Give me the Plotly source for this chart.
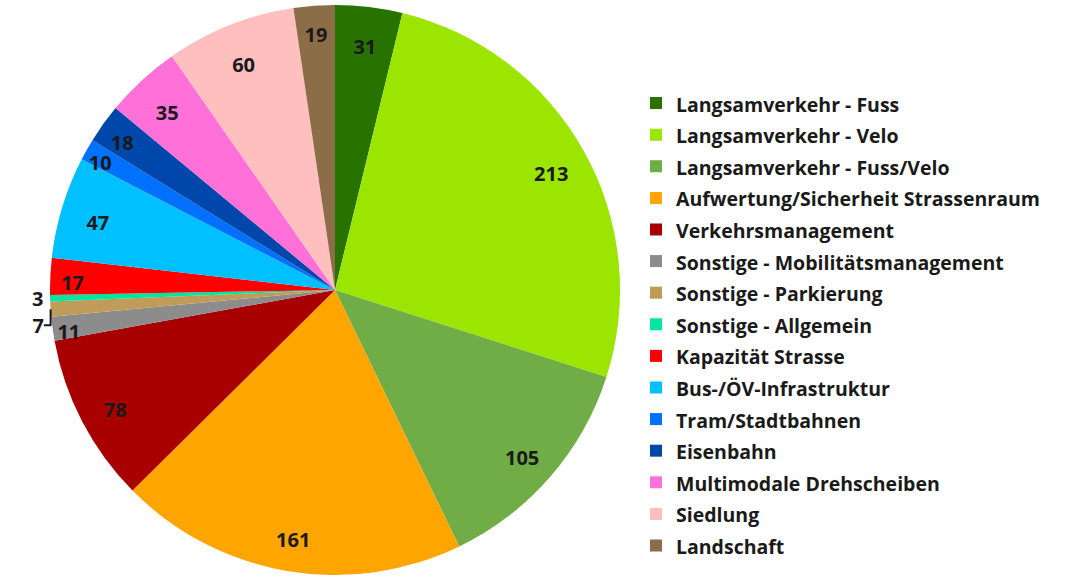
import plotly.graph_objects as go

categories = [
    "Langsamverkehr - Fuss",
    "Langsamverkehr - Velo",
    "Langsamverkehr - Fuss/Velo",
    "Aufwertung/Sicherheit Strassenraum",
    "Verkehrsmanagement",
    "Sonstige - Mobilitätsmanagement",
    "Sonstige - Parkierung",
    "Sonstige - Allgemein",
    "Kapazität Strasse",
    "Bus-/ÖV-Infrastruktur",
    "Tram/Stadtbahnen",
    "Eisenbahn",
    "Multimodale Drehscheiben",
    "Siedlung",
    "Landschaft",
]
values = [31, 213, 105, 161, 78, 11, 7, 3, 17, 47, 10, 18, 35, 60, 19]
colors = [
    "#287200", "#9be500", "#70ad47", "#ffa500", "#a80000",
    "#8c8c8c", "#c19b5a", "#00e5a0", "#ff0000", "#00c0ff",
    "#0070ff", "#0047ab", "#ff70d8", "#ffbfbf", "#8b6d47",
]
outside = ["Sonstige - Parkierung", "Sonstige - Allgemein"]

main_pos = ["outside" if c in outside else "none" for c in categories]
ring_pos = ["none" if c in outside else "inside" for c in categories]

legend_labels = ["<span style='font-size:19.5px'>%s</span>" % c for c in categories]

domain = dict(x=[47.5 / 1076, 622.5 / 1076], y=[0, 0.9914])
ring_domain = dict(x=[52.5 / 1076, 617.5 / 1076], y=[0, 565 / 580])
label_font = dict(family="Open Sans", size=20, color="#1a1a1a", weight="bold")

fig = go.Figure()
fig.add_trace(go.Pie(
    labels=legend_labels,
    values=values,
    marker=dict(colors=colors, line=dict(width=0)),
    sort=False,
    direction="clockwise",
    rotation=0,
    textinfo="value",
    textposition=main_pos,
    textfont=label_font,
    domain=domain,
    showlegend=True,
    hovertext=categories,
    hoverinfo="text+value",
))
fig.add_trace(go.Pie(
    labels=legend_labels,
    values=values,
    hole=0.77,
    marker=dict(colors=["rgba(0,0,0,0)"] * len(values), line=dict(width=0)),
    sort=False,
    direction="clockwise",
    rotation=0,
    textinfo="value",
    textposition=ring_pos,
    insidetextorientation="horizontal",
    textfont=label_font,
    domain=ring_domain,
    showlegend=False,
    hoverinfo="skip",
))

fig.update_layout(
    width=1076,
    height=580,
    margin=dict(l=0, r=0, t=0, b=0),
    paper_bgcolor="white",
    plot_bgcolor="white",
    uniformtext=dict(minsize=20, mode="show"),
    legend=dict(
        x=636 / 1076,
        y=1 - 83 / 580,
        xanchor="left",
        yanchor="top",
        font=dict(family="Open Sans", size=22, color="#1a1a1a", weight="bold"),
        bgcolor="rgba(0,0,0,0)",
    ),
)

fig.write_html("out.html")
